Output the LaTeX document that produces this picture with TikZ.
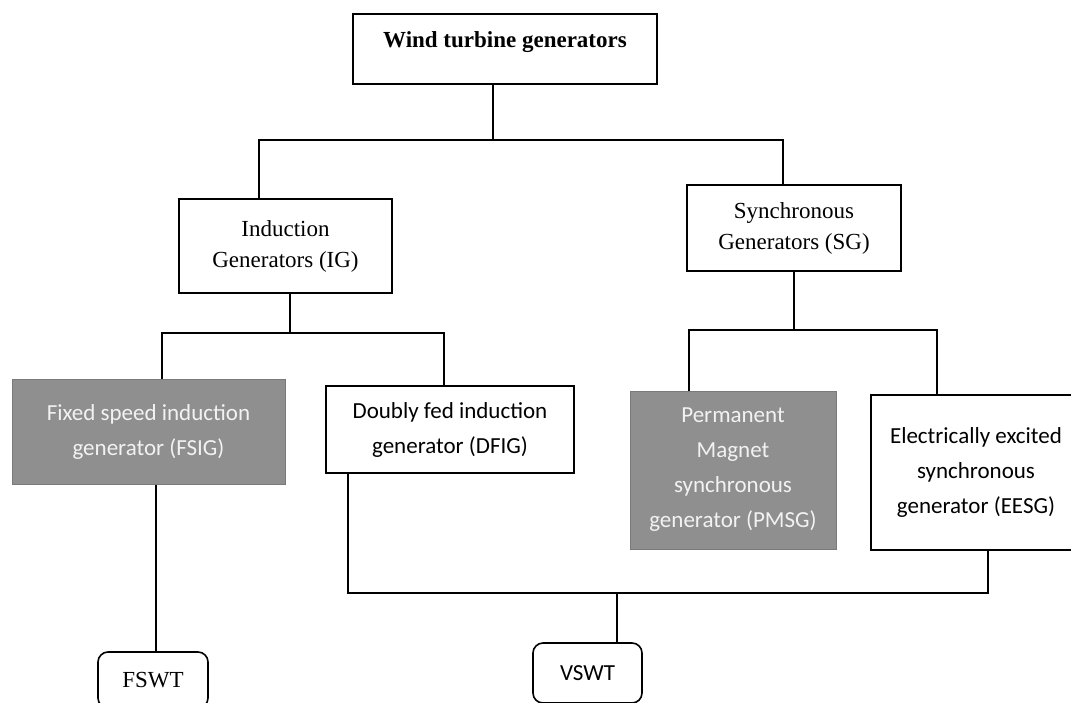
\documentclass[tikz,border=0pt]{standalone}
\usepackage{fontspec}
\setmainfont{Liberation Serif}
\newfontfamily\calibfont{Carlito}
\definecolor{boxgrey}{HTML}{8F8F8F}
\tikzset{
  box/.style={draw,line width=1.6pt,align=center,inner sep=0pt,
    font=\fontsize{23}{31}\selectfont},
  sbox/.style={box,font=\calibfont\fontsize{23}{35}\selectfont},
  greybox/.style={sbox,draw=boxgrey!85!black,line width=1pt,fill=boxgrey,text=white!95!black},
  endbox/.style={box,rounded corners=10pt},
  link/.style={line width=1.3pt}
}
\begin{document}
\begin{tikzpicture}[x=1pt,y=-1pt]
\useasboundingbox (0,0) rectangle (1071,702);
\clip (0,0) rectangle (1071,702);
% top level
\node[box,minimum width=304,minimum height=70,text height=16pt,text depth=19pt] (wtg) at (505,49) {\textbf{Wind turbine generators}};
\node[box,minimum width=213,minimum height=94] (ig) at (285.5,246) {Induction\\Generators (IG)};
\node[box,minimum width=214,minimum height=86] (sg) at (794,228) {Synchronous\\Generators (SG)};
% generator types
\node[greybox,minimum width=273,minimum height=105] (fsig) at (148.5,431.5) {Fixed speed induction\\generator (FSIG)};
\node[sbox,minimum width=248,minimum height=87] (dfig) at (450,429.5) {Doubly fed induction\\generator (DFIG)};
\node[greybox,minimum width=206,minimum height=158] (pmsg) at (733,470) {Permanent\\Magnet\\synchronous\\generator (PMSG)};
\node[sbox,minimum width=210,minimum height=155] (eesg) at (976,472.5) {Electrically excited\\synchronous\\generator (EESG)};
% turbine concepts
\node[endbox,minimum width=110,minimum height=56] (fswt) at (153,680) {FSWT};
\node[endbox,sbox,rounded corners=10pt,minimum width=109,minimum height=60] (vswt) at (587.5,673) {VSWT};
% connectors
\coordinate (gbus) at (493,140);
\draw[link] ([xshift=-12pt]wtg.south) -- (gbus);
\draw[link] ([xshift=-26.5pt]ig.north) |- (gbus) -| ([xshift=-11pt]sg.north);
\coordinate (igbus) at (290,333);
\draw[link] ([xshift=4.5pt]ig.south) -- (igbus);
\draw[link] ([xshift=13.5pt]fsig.north) |- (igbus) -| ([xshift=-6pt]dfig.north);
\coordinate (sgbus) at (794,330);
\draw[link] (sg.south) -- (sgbus);
\draw[link] ([xshift=-44pt]pmsg.north) |- (sgbus) -| ([xshift=-39pt]eesg.north);
\draw[link] ([xshift=7.5pt]fsig.south) -- ([xshift=3pt]fswt.north);
\coordinate (vbus) at (617,593);
\draw[link] ([xshift=-102pt]dfig.south) |- (vbus) -| ([xshift=12pt]eesg.south);
\draw[link] (vbus) -- ([xshift=29.5pt]vswt.north);
\end{tikzpicture}
\end{document}
